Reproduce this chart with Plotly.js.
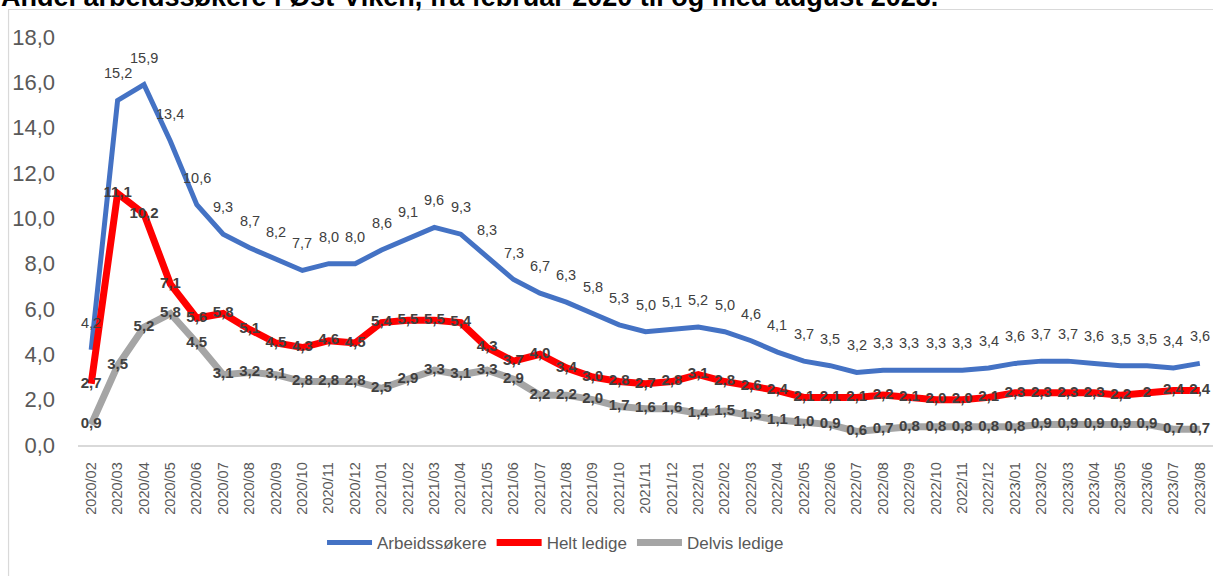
<!DOCTYPE html>
<html>
<head>
<meta charset="utf-8">
<script src="https://cdn.plot.ly/plotly-3.0.1.min.js"></script>
<style>
html,body{margin:0;padding:0;background:#fff;}
#chart{width:1213px;height:576px;}
</style>
</head>
<body>
<div id="chart"></div>
<script>
const months = [
 '2020/02','2020/03','2020/04','2020/05','2020/06','2020/07','2020/08','2020/09','2020/10','2020/11','2020/12',
 '2021/01','2021/02','2021/03','2021/04','2021/05','2021/06','2021/07','2021/08','2021/09','2021/10','2021/11','2021/12',
 '2022/01','2022/02','2022/03','2022/04','2022/05','2022/06','2022/07','2022/08','2022/09','2022/10','2022/11','2022/12',
 '2023/01','2023/02','2023/03','2023/04','2023/05','2023/06','2023/07','2023/08'
];
const arbeidssokere = [
 4.2,15.2,15.9,13.4,10.6,9.3,8.7,8.2,7.7,8.0,8.0,
 8.6,9.1,9.6,9.3,8.3,7.3,6.7,6.3,5.8,5.3,5.0,5.1,
 5.2,5.0,4.6,4.1,3.7,3.5,3.2,3.3,3.3,3.3,3.3,3.4,
 3.6,3.7,3.7,3.6,3.5,3.5,3.4,3.6
];
const heltLedige = [
 2.7,11.1,10.2,7.1,5.6,5.8,5.1,4.5,4.3,4.6,4.5,
 5.4,5.5,5.5,5.4,4.3,3.7,4.0,3.4,3.0,2.8,2.7,2.8,
 3.1,2.8,2.6,2.4,2.1,2.1,2.1,2.2,2.1,2.0,2.0,2.1,
 2.3,2.3,2.3,2.3,2.2,2.3,2.4,2.4
];
const delvisLedige = [
 0.9,3.5,5.2,5.8,4.5,3.1,3.2,3.1,2.8,2.8,2.8,
 2.5,2.9,3.3,3.1,3.3,2.9,2.2,2.2,2.0,1.7,1.6,1.6,
 1.4,1.5,1.3,1.1,1.0,0.9,0.6,0.7,0.8,0.8,0.8,0.8,
 0.8,0.9,0.9,0.9,0.9,0.9,0.7,0.7
];
// label shown in the source for 2023/06 of "Helt ledige"
const heltLabelOverride = {'2023/06': '2'};
const seriesNames = ['Arbeidssøkere','Helt ledige','Delvis ledige'];
const titleText = 'Andel arbeidssøkere i Øst-Viken, fra februar 2020 til og med august 2023.';

const fmt = v => v.toFixed(1).replace('.', ',');
const FONT = '"Liberation Sans", Arial, sans-serif';

const traces = [
 {
  x: months, y: arbeidssokere, name: seriesNames[0], type: 'scatter', mode: 'lines',
  line: {color: '#4472C4', width: 5, shape: 'linear'}, hoverinfo: 'skip'
 },
 {
  x: months, y: heltLedige, name: seriesNames[1], type: 'scatter', mode: 'lines+text',
  line: {color: '#FF0000', width: 7},
  text: heltLedige.map((v, i) => heltLabelOverride[months[i]] || fmt(v)),
  textposition: 'middle center', cliponaxis: false,
  textfont: {family: FONT, size: 15, color: '#404040', weight: 'bold'}, hoverinfo: 'skip'
 },
 {
  x: months, y: delvisLedige, name: seriesNames[2], type: 'scatter', mode: 'lines+text',
  line: {color: '#A5A5A5', width: 7},
  text: delvisLedige.map(fmt),
  textposition: 'middle center', cliponaxis: false,
  textfont: {family: FONT, size: 15, color: '#404040', weight: 'bold'}, hoverinfo: 'skip'
 }
];

const annotations = arbeidssokere.map((v, i) => ({
  x: months[i], y: v, xref: 'x', yref: 'y', text: fmt(v), showarrow: false,
  yshift: 27, font: {family: FONT, size: 14.5, color: '#404040'}
}));
// chart title (cut at the top edge, as in the source picture)
annotations.push({
  text: '<b>' + titleText + '</b>', xref: 'paper', yref: 'paper',
  x: -0.0696, y: 1.098, xanchor: 'left', yanchor: 'middle', showarrow: false,
  font: {family: FONT, size: 27, color: '#000000'}
});

const layout = {
  width: 1213, height: 576,
  margin: {l: 78, r: 0, t: 37, b: 131},
  paper_bgcolor: '#ffffff', plot_bgcolor: '#ffffff',
  font: {family: FONT, color: '#595959'},
  separators: ', ',
  xaxis: {
    type: 'category', range: [-0.5, 42.5], tickangle: -90,
    tickfont: {family: FONT, size: 14.5, color: '#595959'},
    showgrid: false, zeroline: false, showline: true, linecolor: '#D9D9D9', linewidth: 1.5,
    ticks: '', ticklabelstandoff: 10, fixedrange: true
  },
  yaxis: {
    range: [0, 18], tickvals: [0,2,4,6,8,10,12,14,16,18], tickformat: '.1f',
    tickfont: {family: FONT, size: 22, color: '#595959'},
    showgrid: false, zeroline: false, showline: false, ticks: '', ticklabelstandoff: 22,
    fixedrange: true
  },
  showlegend: true,
  legend: {
    orientation: 'h', x: 0.215, xanchor: 'left', y: -0.24, yanchor: 'middle',
    font: {family: FONT, size: 17, color: '#595959'}, itemwidth: 45,
    bgcolor: 'rgba(0,0,0,0)'
  },
  shapes: [{
    type: 'rect', xref: 'paper', yref: 'paper',
    x0: -0.0612, x1: 1.05, y0: -0.4, y1: 1.0674,
    line: {color: '#D9D9D9', width: 1.2}, fillcolor: 'rgba(0,0,0,0)', layer: 'below'
  }],
  annotations: annotations
};

Plotly.newPlot('chart', traces, layout, {displayModeBar: false, staticPlot: true});
</script>
</body>
</html>
